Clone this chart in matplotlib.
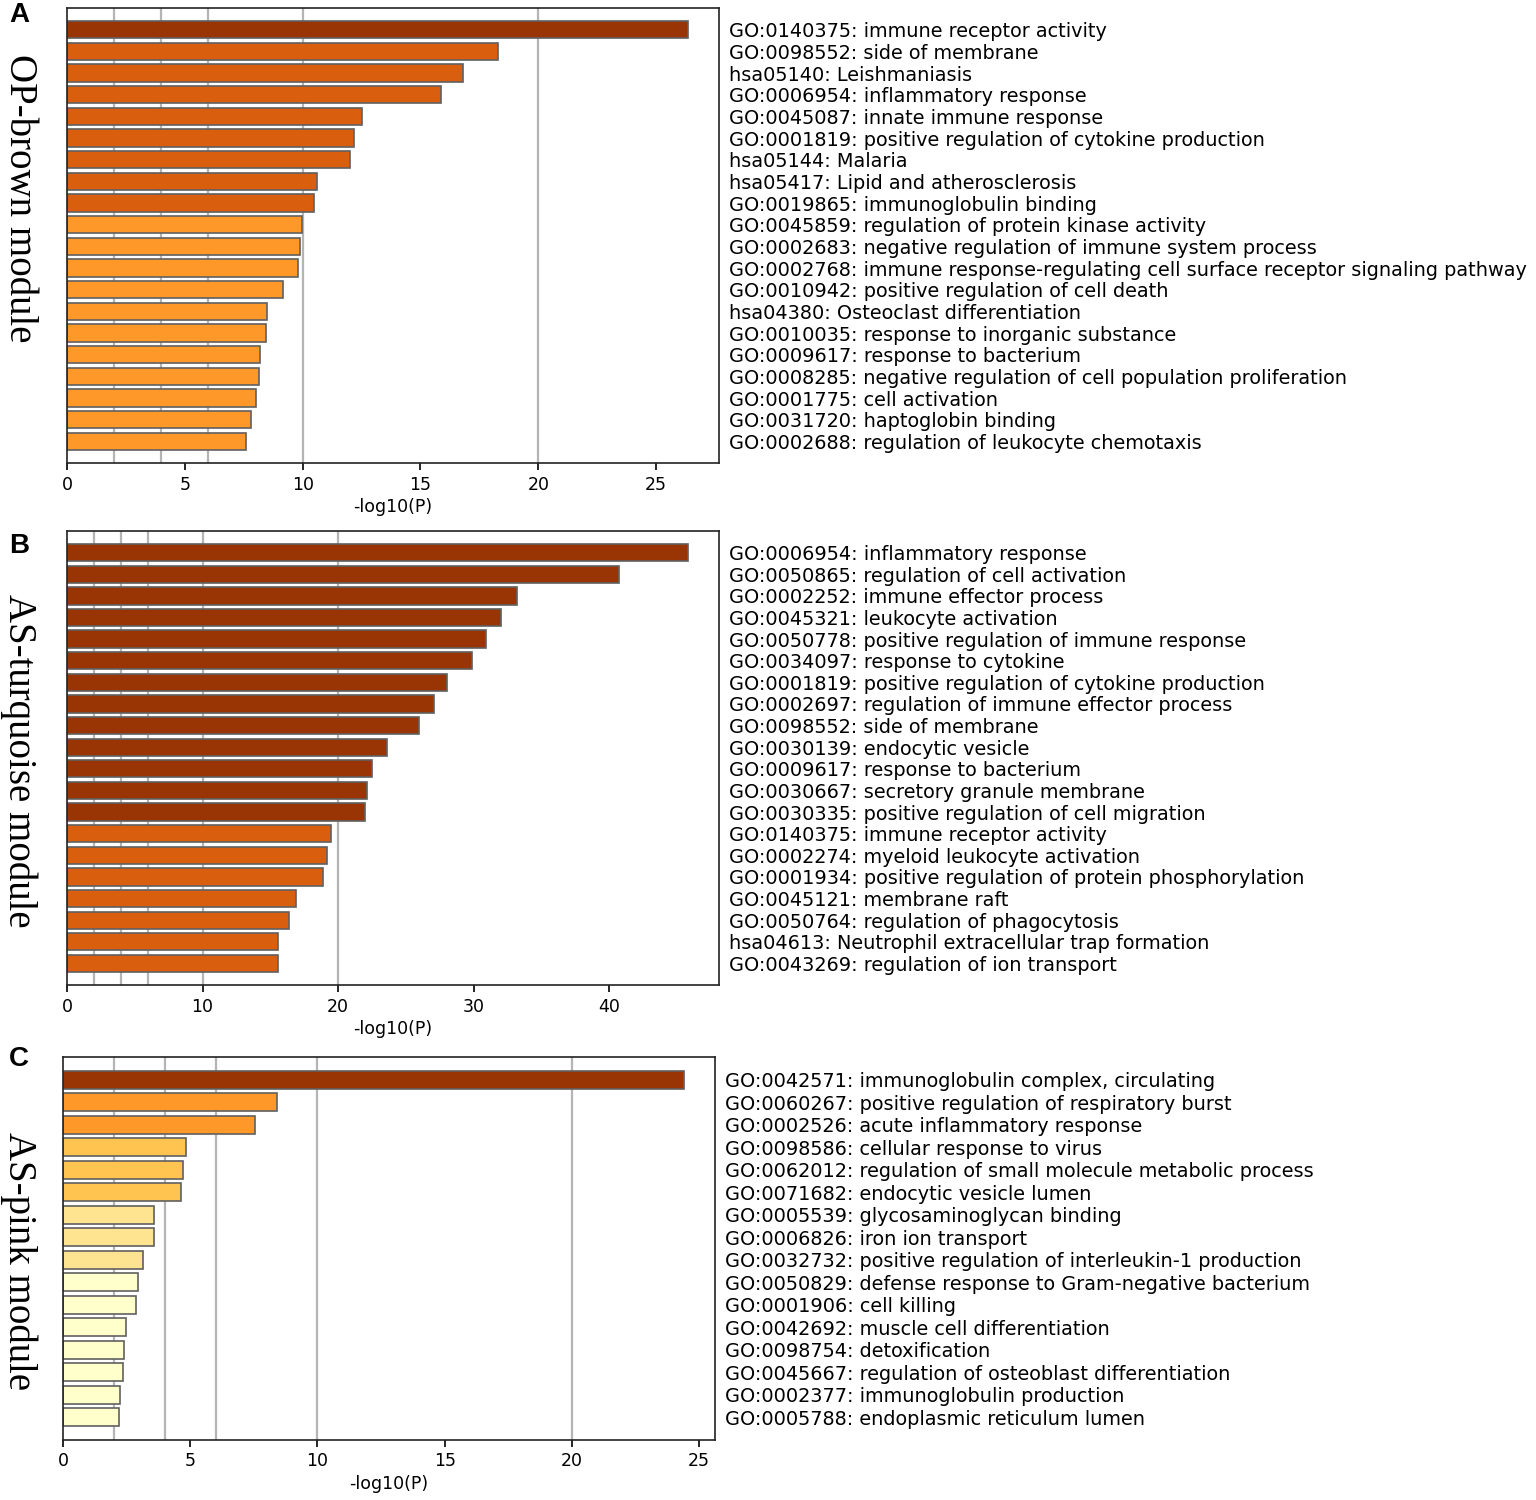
#Import Declarations
import numpy as np
import matplotlib
matplotlib.use("Agg")
import matplotlib.pyplot as plt

#Panel A data (OP-brown module)
termsA = ["GO:0140375: immune receptor activity",
          "GO:0098552: side of membrane",
          "hsa05140: Leishmaniasis",
          "GO:0006954: inflammatory response",
          "GO:0045087: innate immune response",
          "GO:0001819: positive regulation of cytokine production",
          "hsa05144: Malaria",
          "hsa05417: Lipid and atherosclerosis",
          "GO:0019865: immunoglobulin binding",
          "GO:0045859: regulation of protein kinase activity",
          "GO:0002683: negative regulation of immune system process",
          "GO:0002768: immune response-regulating cell surface receptor signaling pathway",
          "GO:0010942: positive regulation of cell death",
          "hsa04380: Osteoclast differentiation",
          "GO:0010035: response to inorganic substance",
          "GO:0009617: response to bacterium",
          "GO:0008285: negative regulation of cell population proliferation",
          "GO:0001775: cell activation",
          "GO:0031720: haptoglobin binding",
          "GO:0002688: regulation of leukocyte chemotaxis"]
valuesA = [26.35, 18.3, 16.8, 15.85, 12.5, 12.2, 12.03, 10.6, 10.5, 9.96,
           9.9, 9.8, 9.15, 8.47, 8.43, 8.18, 8.14, 8.0, 7.8, 7.58]

#Panel B data (AS-turquoise module)
termsB = ["GO:0006954: inflammatory response",
          "GO:0050865: regulation of cell activation",
          "GO:0002252: immune effector process",
          "GO:0045321: leukocyte activation",
          "GO:0050778: positive regulation of immune response",
          "GO:0034097: response to cytokine",
          "GO:0001819: positive regulation of cytokine production",
          "GO:0002697: regulation of immune effector process",
          "GO:0098552: side of membrane",
          "GO:0030139: endocytic vesicle",
          "GO:0009617: response to bacterium",
          "GO:0030667: secretory granule membrane",
          "GO:0030335: positive regulation of cell migration",
          "GO:0140375: immune receptor activity",
          "GO:0002274: myeloid leukocyte activation",
          "GO:0001934: positive regulation of protein phosphorylation",
          "GO:0045121: membrane raft",
          "GO:0050764: regulation of phagocytosis",
          "hsa04613: Neutrophil extracellular trap formation",
          "GO:0043269: regulation of ion transport"]
valuesB = [45.8, 40.7, 33.2, 32.0, 30.9, 29.9, 28.0, 27.1, 26.0, 23.6,
           22.5, 22.1, 22.0, 19.45, 19.15, 18.86, 16.87, 16.35, 15.6, 15.55]

#Panel C data (AS-pink module)
termsC = ["GO:0042571: immunoglobulin complex, circulating",
          "GO:0060267: positive regulation of respiratory burst",
          "GO:0002526: acute inflammatory response",
          "GO:0098586: cellular response to virus",
          "GO:0062012: regulation of small molecule metabolic process",
          "GO:0071682: endocytic vesicle lumen",
          "GO:0005539: glycosaminoglycan binding",
          "GO:0006826: iron ion transport",
          "GO:0032732: positive regulation of interleukin-1 production",
          "GO:0050829: defense response to Gram-negative bacterium",
          "GO:0001906: cell killing",
          "GO:0042692: muscle cell differentiation",
          "GO:0098754: detoxification",
          "GO:0045667: regulation of osteoblast differentiation",
          "GO:0002377: immunoglobulin production",
          "GO:0005788: endoplasmic reticulum lumen"]
valuesC = [24.4, 8.4, 7.54, 4.83, 4.71, 4.63, 3.57, 3.57, 3.14, 2.95,
           2.87, 2.47, 2.4, 2.36, 2.24, 2.2]

#colour bins used by the enrichment plot
binEdges = [3, 4, 6, 10, 20]
binColors = ["#ffffcc", "#fee391", "#fec44f", "#fe9929", "#d95f0e", "#993404"]
gridAt = [2, 4, 6, 10, 20]

fig = plt.figure(figsize=(15.36, 15.0), dpi=100)

#letter, module name, terms, values, axes rect, module label y, letter y
panels = [
    ("A", "OP-brown module", termsA, valuesA, [0.0436, 0.6913, 0.4245, 0.3033], 0.868, 0.990),
    ("B", "AS-turquoise module", termsB, valuesB, [0.0436, 0.3433, 0.4245, 0.3027], 0.493, 0.636),
    ("C", "AS-pink module", termsC, valuesC, [0.0410, 0.0400, 0.4245, 0.2553], 0.159, 0.294),
]

for letter, module, terms, values, rect, labelY, letterY in panels:
    ax = fig.add_axes(rect)
    n = len(values)
    pos = np.arange(n)
    colors = [binColors[np.searchsorted(binEdges, v, side="right")] for v in values]

    #grid lines behind the bars
    for g in gridAt:
        ax.axvline(g, color="#b4b4b4", linewidth=1.6, zorder=0)

    ax.barh(pos, values, height=0.8, color=colors, edgecolor="#606060",
            linewidth=1.2, zorder=2)

    ax.set_xlim(0, max(values) * 1.05)
    ax.set_ylim(n, -1)
    ax.set_yticks(pos)
    ax.set_yticklabels(terms, fontsize=13.9)
    ax.yaxis.tick_right()
    ax.tick_params(axis="y", length=0, pad=7)
    ax.tick_params(axis="x", labelsize=12.5, length=5, width=1.2, pad=4)
    ax.set_xlabel("-log10(P)", fontsize=12.5, labelpad=3)
    for s in ax.spines.values():
        s.set_linewidth(1.2)
        s.set_color("#222222")

    fig.text(0.0125, labelY, module, rotation=270, ha="center", va="center",
             fontsize=28, family="Liberation Serif")
    fig.text(0.0124, letterY, letter, ha="center", va="center",
             fontsize=20, fontweight="bold", family="Liberation Sans")

plt.savefig("out.png", dpi=100)
